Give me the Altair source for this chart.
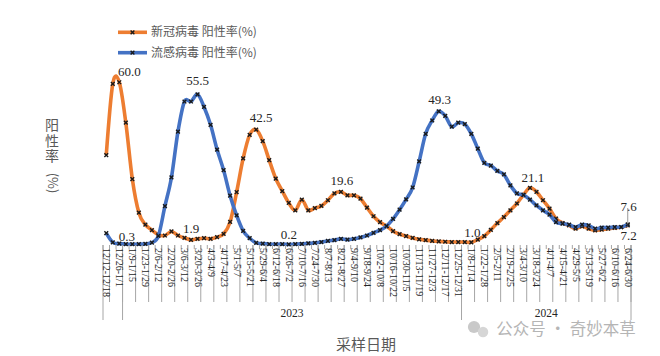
import altair as alt
import pandas as pd

# ---------------- data ----------------
week_labels = ["12/12-12/18", "12/26-1/1", "1/9-1/15", "1/23-1/29", "2/6-2/12", "2/20-2/26",
               "3/6-3/12", "3/20-3/26", "4/3-4/9", "4/17-4/23", "5/1-5/7", "5/15-5/21",
               "5/29-6/4", "6/12-6/18", "6/26-7/2", "7/10-7/16", "7/24-7/30", "8/7-8/13",
               "8/21-8/27", "9/4-9/10", "9/18-9/24", "10/2-10/8", "10/16-10/22", "10/30-11/5",
               "11/13-11/19", "11/27-12/3", "12/11-12/17", "12/25-12/31", "1/8-1/14",
               "1/22-1/28", "2/5-2/11", "2/19-2/25", "3/4-3/10", "3/18-3/24", "4/1-4/7",
               "4/15-4/21", "4/29-5/5", "5/13-5/19", "5/27-6/2", "6/10-6/16", "6/24-6/30"]

covid = [33.1, 59.4, 60.0, 45.1, 24.3, 11.9, 7.5, 5.5, 3.8, 3.5,
         5.0, 3.5, 2.6, 1.9, 2.3, 2.5, 2.3, 2.9, 4.1, 8.5,
         19.5, 31.9, 40.6, 42.5, 38.3, 31.3, 24.5, 19.9, 15.5, 12.8,
         16.7, 12.8, 13.6, 14.4, 16.5, 19.0, 19.6, 18.3, 18.3, 17.1,
         13.8, 10.6, 8.4, 7.0, 5.1, 4.0, 3.3, 2.6, 2.1, 1.8,
         1.5, 1.3, 1.2, 1.1, 1.1, 1.1, 1.0, 2.0, 3.3, 5.6,
         8.1, 10.3, 12.8, 15.3, 18.5, 21.1, 19.6, 16.5, 13.4, 9.7,
         8.1, 7.2, 6.0, 6.9, 6.0, 5.4, 5.7, 6.0, 6.3, 6.6, 7.2]

flu = [4.4, 1.0, 0.5, 0.3, 0.3, 0.3, 0.4, 0.9, 3.4, 14.3,
       24.9, 41.8, 52.9, 52.9, 55.5, 50.9, 44.3, 35.2, 27.6, 18.2,
       10.9, 5.2, 2.5, 0.8, 0.5, 0.3, 0.3, 0.3, 0.2, 0.3,
       0.4, 0.6, 0.8, 1.1, 1.5, 1.8, 2.3, 2.0, 2.3, 2.8,
       3.5, 4.5, 5.5, 7.0, 9.6, 13.0, 16.8, 21.2, 30.8, 41.0,
       45.9, 49.3, 47.6, 43.6, 45.1, 44.6, 41.0, 35.5, 30.3, 29.3,
       27.3, 26.0, 22.0, 19.0, 18.5, 16.7, 14.6, 12.8, 11.2, 8.4,
       7.9, 7.5, 6.6, 7.5, 7.2, 6.0, 6.4, 6.4, 6.6, 6.6, 7.6]

series_names = ["新冠病毒 阳性率(%)", "流感病毒 阳性率(%)"]
years = ["2023", "2024"]
year_bounds = [-0.5, 2.5, 54.5, 80.5]   # category-group boundaries (week index)

# which points carry a value label: (series, week index)
labelled = [("covid", 2), ("flu", 3), ("covid", 13), ("flu", 14), ("covid", 23),
            ("flu", 28), ("covid", 36), ("flu", 51), ("covid", 56), ("covid", 65),
            ("flu", 80), ("covid", 80)]

# ---------------- styling ----------------
ORANGE = "#ED7D31"
BLUE = "#4472C4"
GREY_TXT = "#595959"
AXIS_GREY = "#a6a6a6"
SERIF = "Liberation Serif"
CJK = "Noto Sans CJK SC"
W, H = 528, 217
XPATH = "M-1,-1L1,1M-1,1L1,-1"

n = len(covid)
df = pd.DataFrame({"idx": list(range(n)), "covid": covid, "flu": flu})

xscale = alt.Scale(domain=[-0.5, 80.5], nice=False, zero=False)
yscale = alt.Scale(domain=[0, 80], nice=False)

xaxis = alt.Axis(values=[], labels=False, ticks=False, grid=False,
                 domainColor=AXIS_GREY, title=None)
yaxis = alt.Axis(values=[0, 20, 40, 60, 80], format=".1f", labelFont=SERIF,
                 labelFontSize=12.5, labelColor=GREY_TXT, labelPadding=4,
                 tickSize=4, tickColor=AXIS_GREY, domainColor=AXIS_GREY,
                 grid=False, title=None)

base = alt.Chart(df)

def series_layers(field, color, with_axes=False):
    enc_x = alt.X("idx:Q", scale=xscale, axis=xaxis if with_axes else None)
    enc_y = alt.Y(f"{field}:Q", scale=yscale, axis=yaxis if with_axes else None)
    line = base.mark_line(color=color, strokeWidth=3.6, interpolate="cardinal").encode(x=enc_x, y=enc_y)
    pts = base.mark_point(shape=XPATH, size=14, filled=False, stroke="#1a1a1a",
                          strokeWidth=1.4, opacity=1).encode(
        x=alt.X("idx:Q", scale=xscale, axis=None), y=alt.Y(f"{field}:Q", scale=yscale, axis=None))
    return [line, pts]

layers = []
layers += series_layers("covid", ORANGE, with_axes=True)
layers += series_layers("flu", BLUE)

# week tick marks and label separators below the x axis
bounds = pd.DataFrame({"b": [i + 0.5 for i in range(-1, n)]})
layers.append(alt.Chart(bounds).mark_rule(color=AXIS_GREY, strokeWidth=1).encode(
    x=alt.X("b:Q", scale=xscale, axis=None), y=alt.value(H), y2=alt.value(H + 4)))
seps = pd.DataFrame({"b": [0.5 + 2 * i for i in range(0, 41)]})
layers.append(alt.Chart(seps).mark_rule(color=AXIS_GREY, strokeWidth=1).encode(
    x=alt.X("b:Q", scale=xscale, axis=None), y=alt.value(H), y2=alt.value(H + 57)))
ydiv = pd.DataFrame({"b": year_bounds})
layers.append(alt.Chart(ydiv).mark_rule(color=AXIS_GREY, strokeWidth=1).encode(
    x=alt.X("b:Q", scale=xscale, axis=None), y=alt.value(H), y2=alt.value(H + 75)))

# week range labels (every second week), rotated
wl = pd.DataFrame({"idx": list(range(0, n, 2)), "lab": week_labels})
layers.append(alt.Chart(wl).mark_text(font=SERIF, fontSize=10, color="#262626", angle=90,
                                      align="left", baseline="middle").encode(
    x=alt.X("idx:Q", scale=xscale, axis=None), y=alt.value(H + 3), text="lab:N"))

# year labels centred in their groups
ylab = pd.DataFrame({"year": years,
                     "mid": [(year_bounds[1] + year_bounds[2]) / 2, (year_bounds[2] + year_bounds[3]) / 2]})
layers.append(alt.Chart(ylab).mark_text(font=SERIF, fontSize=11.5, color="#262626").encode(
    x=alt.X("mid:Q", scale=xscale, axis=None), y=alt.value(H + 69), text="year:N"))

# value labels
offsets = {("covid", 2): (10, -10), ("flu", 3): (1, -7), ("covid", 13): (0, -11),
           ("flu", 14): (0, -13), ("covid", 23): (5, -12), ("flu", 28): (0, -9),
           ("covid", 36): (1, -11), ("flu", 51): (1, -11), ("covid", 56): (1, -9),
           ("covid", 65): (3, -10), ("flu", 80): (1, -17), ("covid", 80): (1, 11)}
src = {"covid": covid, "flu": flu}
for s, i in labelled:
    dx, dy = offsets[(s, i)]
    d = pd.DataFrame({"idx": [i], "v": [src[s][i]], "t": [f"{src[s][i]:.1f}"]})
    layers.append(alt.Chart(d).mark_text(font=SERIF, fontSize=13, color="#262626",
                                         dx=dx, dy=dy, baseline="middle").encode(
        x=alt.X("idx:Q", scale=xscale, axis=None), y=alt.Y("v:Q", scale=yscale, axis=None), text="t:N"))

# leader line for 7.6
lead = pd.DataFrame({"idx": [80], "v": [flu[80]]})
layers.append(alt.Chart(lead).mark_rule(color="#7f7f7f", strokeWidth=0.8).encode(
    x=alt.X("idx:Q", scale=xscale, axis=None), y=alt.Y("v:Q", scale=yscale, axis=None),
    y2=alt.value(H - 37)))

# legend (drawn by hand to get line + x marker)
one = pd.DataFrame({"a": [0]})
for k, (name, color) in enumerate(zip(series_names, [ORANGE, BLUE])):
    yy = 4.3 + 20.4 * k
    layers.append(alt.Chart(one).mark_rule(color=color, strokeWidth=3.6).encode(
        x=alt.value(15), x2=alt.value(44), y=alt.value(yy)))
    layers.append(alt.Chart(one).mark_point(shape=XPATH, size=14, filled=False, stroke="#1a1a1a",
                                            strokeWidth=1.4, opacity=1).encode(
        x=alt.value(29.5), y=alt.value(yy)))
    layers.append(alt.Chart(one).mark_text(align="left", baseline="middle", font=CJK,
                                           fontSize=12, color=GREY_TXT).encode(
        x=alt.value(48), y=alt.value(yy), text=alt.value(name)))

# y title: stacked characters + rotated (%)
for ch, yy in zip(["阳", "性", "率"], [98.0, 113.5, 129.0]):
    layers.append(alt.Chart(one).mark_text(font=CJK, fontSize=14, color=GREY_TXT,
                                           baseline="middle").encode(
        x=alt.value(-51), y=alt.value(yy), text=alt.value(ch)))
layers.append(alt.Chart(one).mark_text(font=CJK, fontSize=13, color=GREY_TXT, angle=90,
                                       baseline="middle").encode(
    x=alt.value(-51), y=alt.value(155), text=alt.value("(%)")))

# x title
layers.append(alt.Chart(one).mark_text(font=CJK, fontSize=15, color=GREY_TXT, baseline="middle").encode(
    x=alt.value(263), y=alt.value(317), text=alt.value("采样日期")))

# watermark (chat-bubble icon + text)
layers.append(alt.Chart(one).mark_circle(color="#c9c9c9", opacity=1, size=150).encode(
    x=alt.value(371), y=alt.value(299)))
layers.append(alt.Chart(one).mark_circle(color="#d6d6d6", opacity=1, size=110).encode(
    x=alt.value(380), y=alt.value(304)))
layers.append(alt.Chart(one).mark_text(font=CJK, fontSize=16.5, color="#b5b5b5", baseline="middle").encode(
    x=alt.value(463), y=alt.value(302), text=alt.value("公众号 · 奇妙本草")))

chart = alt.layer(*layers).properties(
    width=W, height=H,
    autosize=alt.AutoSizeParams(type="none"),
    padding={"left": 103, "top": 28, "right": 29, "bottom": 111},
    background="white",
).configure_view(stroke=None)

chart.save("out.html", embed_options={"renderer": "svg", "actions": False})
